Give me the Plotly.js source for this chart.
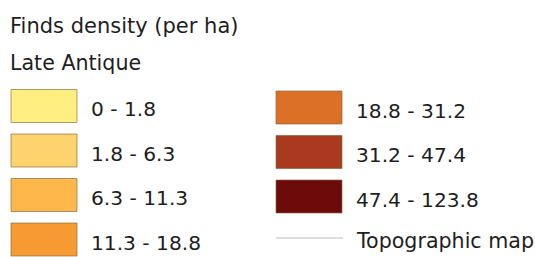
<!DOCTYPE html>
<html>
<head>
<meta charset="utf-8">
<script src="https://cdn.plot.ly/plotly-3.0.1.min.js"></script>
<style>
html,body{margin:0;padding:0;background:#fff;}
#chart{width:535px;height:257px;}
</style>
</head>
<body>
<div id="chart"></div>
<script>
// ---- data ----
const legendTitle = "Finds density (per ha)";
const periodLabel = "Late Antique";
const classLabels = ["0 - 1.8", "1.8 - 6.3", "6.3 - 11.3", "11.3 - 18.8",
                     "18.8 - 31.2", "31.2 - 47.4", "47.4 - 123.8"];
const classColors = ["#FFEE80", "#FED36D", "#FDB74B", "#F79A32",
                     "#DC7027", "#A93A1F", "#6D0B0B"];
const lineLabel = "Topographic map";
const lineColor = "#d2d2d2";

// ---- layout geometry (legend placement) ----
const colX = [11, 276];        // swatch left edge per column
const colY0 = [106, 107.5];    // first row centre per column
const rowStep = 44.5;
const swW = 66, swH = 33;
const labelGap = 12;
const textFont = {family: "DejaVu Sans, Arial, sans-serif", size: 20.2, color: "#1e1e1e"};

const traces = [];
const annotations = [];

classLabels.forEach((lab, i) => {
  const col = i < 4 ? 0 : 1;
  const row = i < 4 ? i : i - 4;
  const yc = colY0[col] + row * rowStep;
  traces.push({
    type: "bar", orientation: "h",
    y: [yc], x: [swW], base: [colX[col]], width: [swH],
    marker: {color: classColors[i], line: {color: "rgba(130,105,60,0.65)", width: 1}},
    hoverinfo: "skip", showlegend: false
  });
  annotations.push({
    x: colX[col] + swW + labelGap, y: yc + 3, xref: "x", yref: "y",
    text: lab, showarrow: false, xanchor: "left", yanchor: "middle",
    font: textFont
  });
});

// topographic line item (4th row of right column)
{
  const yc = colY0[1] + 3 * rowStep - 3;
  traces.push({
    type: "scatter", mode: "lines",
    x: [colX[1], colX[1] + swW + 1], y: [yc, yc],
    line: {color: lineColor, width: 1.5},
    hoverinfo: "skip", showlegend: false
  });
  annotations.push({
    x: colX[1] + swW + labelGap, y: yc + 3, xref: "x", yref: "y",
    text: lineLabel, showarrow: false, xanchor: "left", yanchor: "middle",
    font: Object.assign({}, textFont, {size: 20.6})
  });
}

annotations.push({
  x: 8, y: 26, xref: "x", yref: "y", text: legendTitle, showarrow: false,
  xanchor: "left", yanchor: "middle", font: Object.assign({}, textFont, {size: 21})
});
annotations.push({
  x: 8, y: 63, xref: "x", yref: "y", text: periodLabel, showarrow: false,
  xanchor: "left", yanchor: "middle", font: Object.assign({}, textFont, {size: 20.6})
});

const layout = {
  width: 535, height: 257,
  margin: {l: 0, r: 0, t: 0, b: 0},
  paper_bgcolor: "#ffffff", plot_bgcolor: "#ffffff",
  barmode: "overlay",
  xaxis: {range: [0, 535], visible: false, fixedrange: true},
  yaxis: {range: [257, 0], visible: false, fixedrange: true},
  annotations: annotations,
  showlegend: false
};

Plotly.newPlot("chart", traces, layout, {staticPlot: true, displayModeBar: false});
</script>
</body>
</html>
